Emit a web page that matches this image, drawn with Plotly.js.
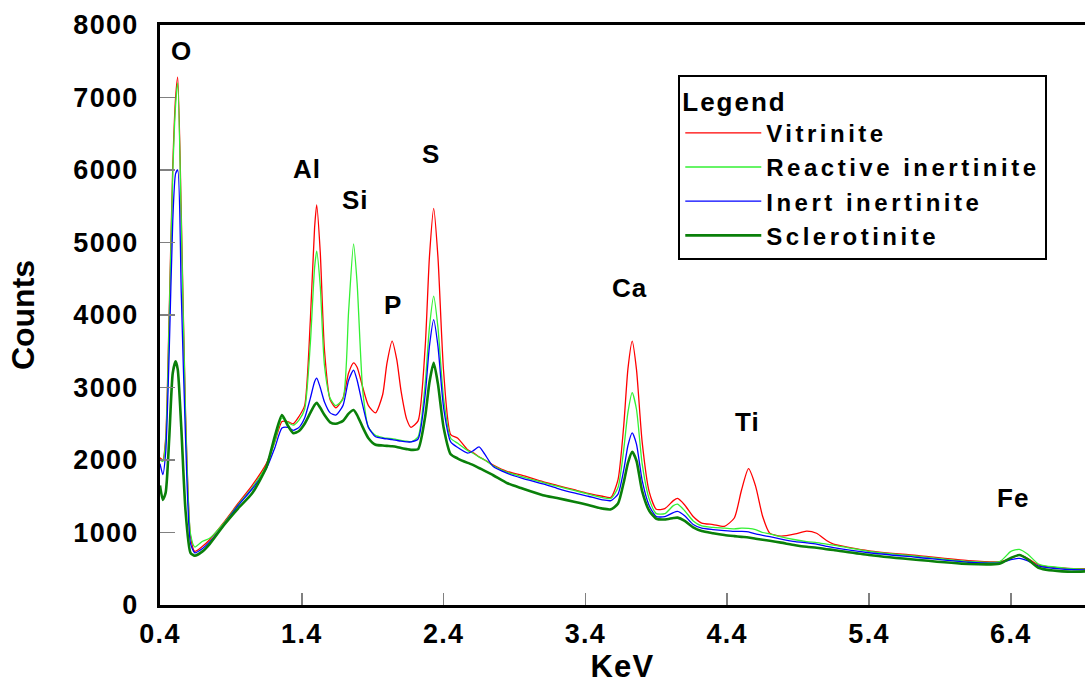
<!DOCTYPE html>
<html>
<head>
<meta charset="utf-8">
<script src="https://cdn.plot.ly/plotly-3.0.1.min.js"></script>
<style>
  body { margin: 0; padding: 0; background: #fff; overflow: hidden; }
  #chart { width: 1085px; height: 686px; }
  .legendtext { letter-spacing: 3.5px; }
  .legendtitletext { letter-spacing: 2px; }
  .xtick text, .ytick text { letter-spacing: 1.3px; }
  .xtitle { letter-spacing: 1.3px; }
  .annotation-text { letter-spacing: 1px; }
</style>
</head>
<body>
<div id="chart"></div>
<script>
// Energy axis (KeV)
const energy = [
  0.40, 0.42, 0.44, 0.465, 0.49, 0.51, 0.525, 0.55, 0.58, 0.615,
  0.645, 0.70, 0.75, 0.85, 0.95, 1.05, 1.15, 1.21, 1.26, 1.30,
  1.34, 1.38, 1.42, 1.46, 1.49, 1.505, 1.53, 1.56, 1.60, 1.64,
  1.69, 1.73, 1.765, 1.79, 1.83, 1.87, 1.92, 1.97, 2.00, 2.037,
  2.07, 2.10, 2.14, 2.17, 2.22, 2.27, 2.30, 2.33, 2.36, 2.40,
  2.45, 2.50, 2.57, 2.61, 2.65, 2.69, 2.75, 2.85, 2.95, 3.10,
  3.20, 3.32, 3.42, 3.52, 3.58, 3.63, 3.67, 3.70, 3.73, 3.76,
  3.80, 3.85, 3.90, 3.96, 4.02, 4.05, 4.10, 4.16, 4.22, 4.30,
  4.38, 4.45, 4.50, 4.55, 4.60, 4.65, 4.70, 4.78, 4.88, 4.96,
  5.03, 5.10, 5.15, 5.40, 5.75, 6.10, 6.32, 6.40, 6.46, 6.52,
  6.60, 6.80, 6.95
];

const vitrinite = [
  2030, 2000, 2300, 4050, 6050, 7000, 7280, 5400, 2650, 950,
  740, 810, 900, 1140, 1400, 1650, 1950, 2250, 2530, 2530,
  2500, 2600, 2750, 3920, 5200, 5520, 4870, 3510, 2830, 2720,
  2850, 3200, 3340, 3280, 3000, 2750, 2650, 2900, 3330, 3640,
  3380, 2950, 2560, 2450, 2540, 3560, 4800, 5470, 4800, 3220,
  2350, 2300, 2140, 2100, 2045, 2000, 1930, 1840, 1790, 1700,
  1650, 1590, 1540, 1500, 1485, 1730, 2470, 3260, 3640, 3250,
  2250, 1560, 1320, 1330, 1440, 1470, 1380, 1220, 1130, 1110,
  1085, 1200, 1580, 1880, 1640, 1220, 990, 950, 980, 1020,
  990, 890, 840, 748, 680, 612, 597, 643, 690, 640,
  550, 505, 500
];

const reactiveInertinite = [
  2000, 1980, 2250, 3950, 5950, 6900, 7200, 5300, 2600, 980,
  800, 880, 920, 1130, 1380, 1620, 1920, 2260, 2580, 2520,
  2480, 2550, 2700, 3600, 4650, 4880, 4400, 3300, 2850, 2750,
  2840, 4050, 4980, 4440, 2950, 2450, 2340, 2310, 2300, 2296,
  2280, 2270, 2260, 2250, 2320, 3050, 3830, 4260, 3830, 2850,
  2300, 2230, 2130, 2090, 2040, 2000, 1920, 1830, 1770, 1690,
  1640, 1580, 1530, 1480, 1470, 1620, 2140, 2660, 2930, 2700,
  1950, 1460, 1260, 1260, 1370, 1390, 1300, 1160, 1090, 1070,
  1060, 1050, 1060, 1056, 1040, 1000, 980, 940, 900, 875,
  860, 840, 826, 740, 670, 600, 597, 740, 767, 700,
  560, 505, 495
];

const inertInertinite = [
  1950, 1800, 2100, 3500, 5300, 5950, 6000, 4300, 2300, 850,
  720, 780, 870, 1110, 1370, 1600, 1880, 2170, 2440, 2450,
  2410, 2450, 2580, 2850, 3080, 3130, 3000, 2800, 2650, 2620,
  2750, 3100, 3240, 3100, 2750, 2450, 2320, 2300, 2290, 2282,
  2270, 2260, 2250, 2250, 2290, 2900, 3570, 3935, 3570, 2720,
  2250, 2172, 2095, 2130, 2180, 2080, 1910, 1815, 1750, 1670,
  1610, 1545, 1500, 1450, 1440, 1530, 1860, 2200, 2374, 2220,
  1720, 1370, 1220, 1220, 1275, 1290, 1230, 1110, 1060, 1040,
  1025, 1015, 1015, 1010, 980, 960, 942, 910, 875, 858,
  840, 810, 790, 721, 655, 590, 580, 625, 643, 610,
  535, 490, 485
];

const sclerotinite = [
  1650, 1450, 1550, 2300, 3200, 3360, 3250, 2450, 1300, 720,
  680, 740, 840, 1100, 1330, 1540, 1900, 2330, 2620, 2480,
  2370, 2400, 2500, 2650, 2760, 2790, 2720, 2620, 2520, 2500,
  2540, 2640, 2690, 2620, 2450, 2300, 2210, 2200, 2195, 2190,
  2180, 2165, 2150, 2140, 2150, 2600, 3070, 3340, 3050, 2450,
  2080, 2020, 1960, 1930, 1890, 1850, 1790, 1680, 1610, 1515,
  1475, 1425, 1380, 1330, 1320, 1400, 1690, 1960, 2112, 1990,
  1570, 1300, 1190, 1180, 1200, 1205, 1160, 1070, 1020, 990,
  965, 950, 940, 932, 915, 900, 886, 860, 825, 803,
  790, 770, 758, 689, 620, 565, 570, 650, 689, 630,
  510, 460, 465
];

const seriesNames = ['Vitrinite', 'Reactive inertinite', 'Inert inertinite', 'Sclerotinite'];

const xTickVals = [0.4, 1.4, 2.4, 3.4, 4.4, 5.4, 6.4];
const xTickText = ['0.4', '1.4', '2.4', '3.4', '4.4', '5.4', '6.4'];
const yTickVals = [0, 1000, 2000, 3000, 4000, 5000, 6000, 7000, 8000];
const yTickText = ['0', '1000', '2000', '3000', '4000', '5000', '6000', '7000', '8000'];

// Element peak labels
const elementLabels = ['O', 'Al', 'Si', 'P', 'S', 'Ca', 'Ti', 'Fe'];
const elementKeV    = [0.553, 1.435, 1.779, 2.040, 2.311, 3.711, 4.541, 6.415];
const elementCounts = [7643, 6014, 5590, 4135, 6220, 4375, 2520, 1478];

const FONT = 'Liberation Sans, Arial, Helvetica, sans-serif';

const traces = [
  { y: vitrinite, color: '#ff0000', width: 1.3 },
  { y: reactiveInertinite, color: '#33f033', width: 1.3 },
  { y: inertInertinite, color: '#0000ff', width: 1.3 },
  { y: sclerotinite, color: '#0a800a', width: 2.6 }
].map((s, i) => ({
  type: 'scatter',
  mode: 'lines',
  name: seriesNames[i],
  x: energy,
  y: s.y,
  line: { color: s.color, width: s.width, shape: 'spline', smoothing: 0.6 }
}));

const annotations = elementLabels.map((t, i) => ({
  text: t,
  x: elementKeV[i],
  y: elementCounts[i],
  xref: 'x',
  yref: 'y',
  showarrow: false,
  font: { family: FONT, size: 26, weight: 'bold', color: '#000' }
}));

const layout = {
  width: 1085,
  height: 686,
  margin: { l: 160, r: 0, t: 25, b: 81 },
  paper_bgcolor: '#fff',
  plot_bgcolor: '#fff',
  font: { family: FONT, color: '#000' },
  showlegend: true,
  xaxis: {
    range: [0.4, 6.923],
    tickmode: 'array',
    tickvals: xTickVals,
    ticktext: xTickText,
    ticks: 'inside',
    ticklen: 12,
    tickwidth: 1.5,
    tickcolor: '#808080',
    showline: true,
    linewidth: 3,
    linecolor: '#000',
    mirror: true,
    showgrid: false,
    zeroline: false,
    ticklabelstandoff: 3,
    tickfont: { family: FONT, size: 27, weight: 'bold', color: '#000' },
    title: { text: 'KeV', font: { family: FONT, size: 31, weight: 'bold', color: '#000' }, standoff: 2 }
  },
  yaxis: {
    range: [0, 8000],
    tickmode: 'array',
    tickvals: yTickVals,
    ticktext: yTickText,
    ticks: 'inside',
    ticklen: 15,
    tickwidth: 1.5,
    tickcolor: '#808080',
    showline: true,
    linewidth: 3,
    linecolor: '#000',
    showgrid: false,
    zeroline: false,
    ticklabelstandoff: 13,
    tickfont: { family: FONT, size: 27, weight: 'bold', color: '#000' },
    title: { text: 'Counts', font: { family: FONT, size: 32, weight: 'bold', color: '#000' }, standoff: 30 }
  },
  legend: {
    x: 0.5603,
    y: 0.9140,
    xanchor: 'left',
    yanchor: 'top',
    bgcolor: '#fff',
    bordercolor: '#000',
    borderwidth: 2,
    itemwidth: 76,
    tracegroupgap: 0,
    font: { family: FONT, size: 24, weight: 'bold', color: '#000' },
    title: { text: 'Legend', font: { family: FONT, size: 26, weight: 'bold', color: '#000' } }
  },
  annotations: annotations
};

Plotly.newPlot('chart', traces, layout, { displayModeBar: false, staticPlot: true });
</script>
</body>
</html>
